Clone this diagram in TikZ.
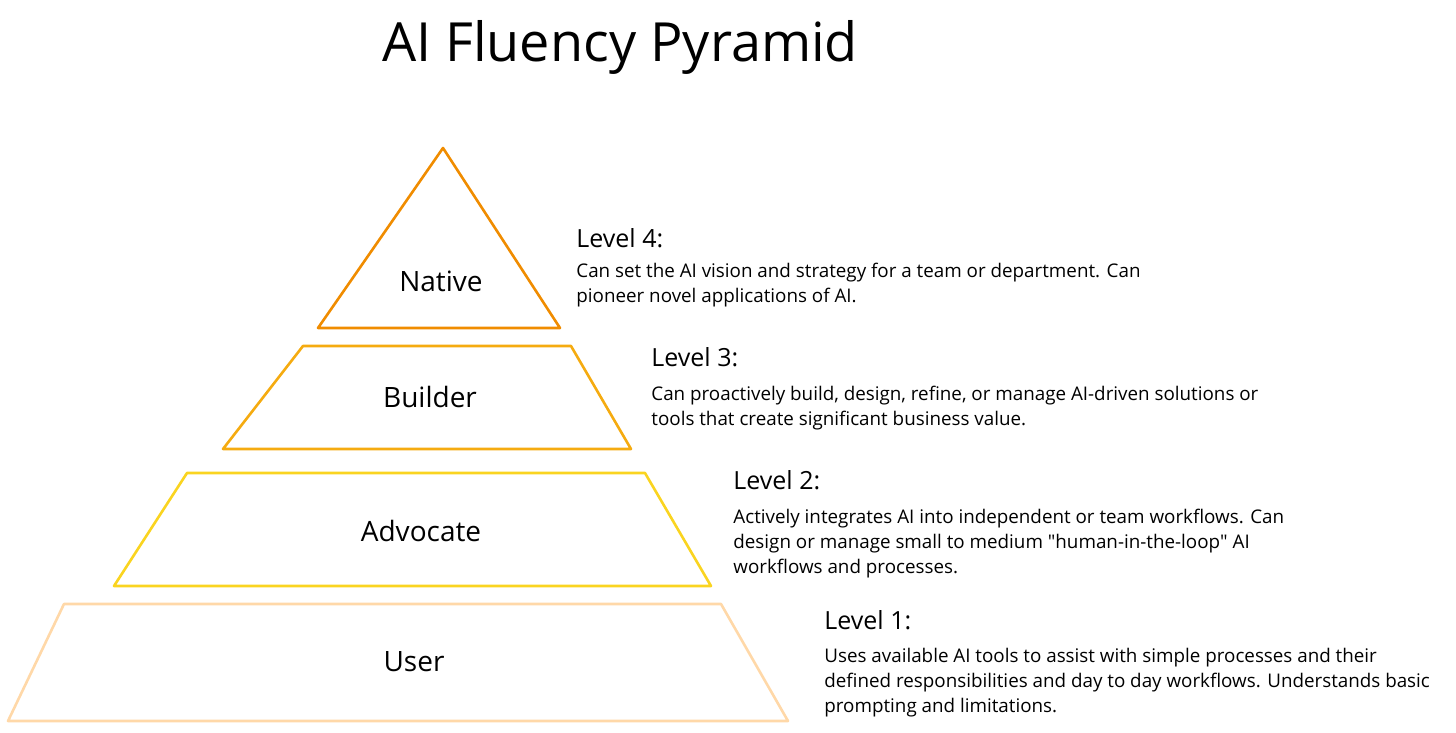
\documentclass[tikz,border=0pt]{standalone}
\usepackage{fontspec}
\setmainfont{Open Sans}
\newfontfamily\handfont{Open Sans}
\usepackage{xcolor}
\usetikzlibrary{calc}
\definecolor{nativecol}{HTML}{F08C00}
\definecolor{buildercol}{HTML}{F5AB10}
\definecolor{advocatecol}{HTML}{FAD420}
\definecolor{usercol}{HTML}{FFD8A8}
\tikzset{
  tier/.style={line width=1.3pt, line join=round},
  tiername/.style={font=\handfont\fontsize{14}{16}\selectfont},
  levelname/.style={font=\handfont\fontsize{12.5}{15}\selectfont, anchor=west, inner sep=0pt},
  leveltext/.style={font=\fontsize{9.4}{12.4}\selectfont, anchor=north west, align=left, inner sep=0pt},
}

\begin{document}
\begin{tikzpicture}[x=0.5pt, y=-0.5pt]
\useasboundingbox (0,0) rectangle (1456,733);
\node[font=\handfont\fontsize{27}{32}\selectfont] (title) at (620,47) {AI Fluency Pyramid};

% tiers
\draw[tier, draw=nativecol] (443,148) -- (560,328) -- (318,328) -- cycle;
\draw[tier, draw=buildercol] (303,346) -- (571,346) -- (631,449) -- (223,449) -- cycle;
\draw[tier, draw=advocatecol] (187,473) -- (645,473) -- (711,586) -- (114,586) -- cycle;
\draw[tier, draw=usercol] (64,604) -- (721,604) -- (788,721) -- (8,721) -- cycle;

\node[tiername] (native) at (441,281) {Native};
\node[tiername] (builder) at (430,397) {Builder};
\node[tiername] (advocate) at (421,531) {Advocate};
\node[tiername] (user) at (414,662) {User};

% descriptions
\node[levelname] (lvl4) at (576,238) {Level 4:};
\node[leveltext] (txt4) at (576,263) {Can set the AI vision and strategy for a team or department. Can\\pioneer novel applications of AI.};
\node[levelname] (lvl3) at (651,357) {Level 3:};
\node[leveltext] (txt3) at (651,386) {Can proactively build, design, refine, or manage AI-driven solutions or\\tools that create significant business value.};
\node[levelname] (lvl2) at (733,480) {Level 2:};
\node[leveltext] (txt2) at (733,509) {Actively integrates AI into independent or team workflows. Can\\design or manage small to medium \textquotedbl human-in-the-loop\textquotedbl{} AI\\workflows and processes.};
\node[levelname] (lvl1) at (824,620) {Level 1:};
\node[leveltext] (txt1) at (824,648) {Uses available AI tools to assist with simple processes and their\\defined responsibilities and day to day workflows. Understands basic\\prompting and limitations.};
\end{tikzpicture}
\end{document}
